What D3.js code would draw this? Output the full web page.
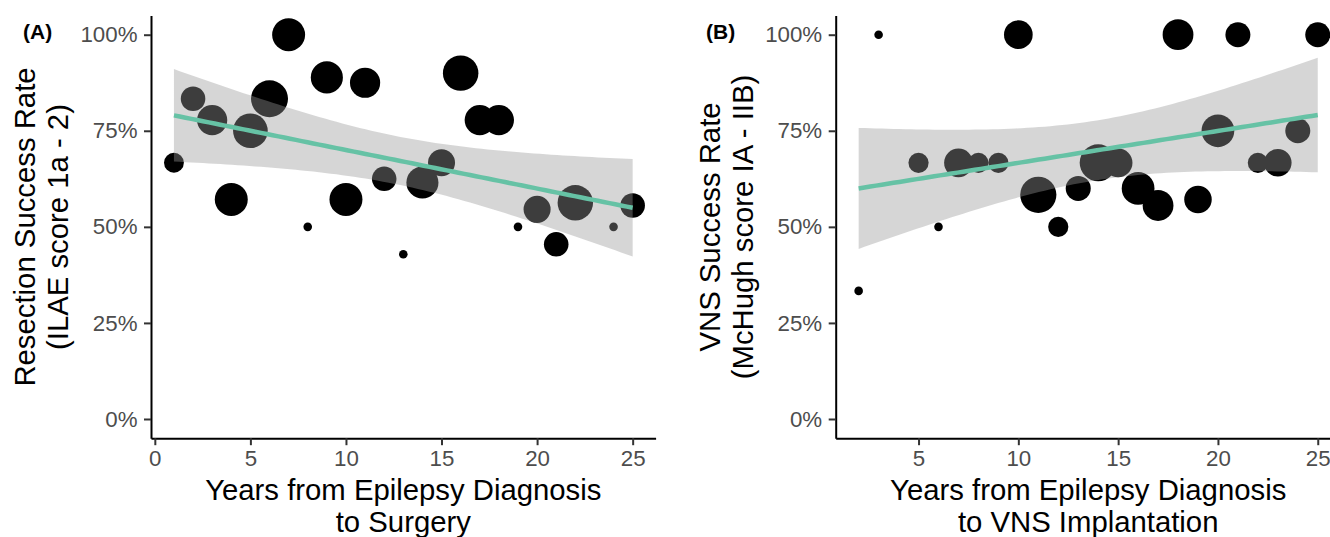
<!DOCTYPE html>
<html>
<head>
<meta charset="utf-8">
<script src="https://cdn.jsdelivr.net/npm/d3@7"></script>
<style>
  body { margin: 0; background: #fff; }
  text { font-family: "Liberation Sans", Arial, Helvetica, sans-serif; }
</style>
</head>
<body>
<svg id="chart" width="1330" height="537"></svg>
<script>
// ******* DATA *******
// (A) resection: years from diagnosis, success rate (%), patients per point
const resectionYears = [1, 2, 3, 4, 5, 6, 7, 8, 9, 10, 11, 12, 13, 14, 15, 16, 17, 18, 19, 20, 21, 22, 24, 25];
const resectionRate = [66.67, 83.33, 77.78, 57.14, 75, 83.33, 100, 50, 88.89, 57.14, 87.5, 62.5, 42.86, 61.54, 66.67, 90, 77.78, 77.78, 50, 54.55, 45.45, 56.25, 50, 55.56];
const resectionN = [4, 7, 12, 15, 17, 20, 15, 1, 14, 15, 12, 7, 1, 14, 9, 18, 12, 12, 1, 9, 7, 18, 1, 7];

// (B) VNS: years from diagnosis, success rate (%), patients per point
const vnsYears = [2, 3, 5, 6, 7, 8, 9, 10, 11, 12, 13, 14, 15, 16, 17, 18, 19, 20, 21, 22, 23, 24, 25];
const vnsRate = [33.33, 100, 66.67, 50, 66.67, 66.67, 66.67, 100, 58.33, 50, 60, 66.67, 66.67, 60, 55.56, 100, 57.14, 75, 100, 66.67, 66.67, 75, 100];
const vnsN = [1, 1, 4, 1, 10, 4, 4, 10, 18, 4, 7, 19, 10, 14, 12, 12, 9, 14, 7, 4, 9, 7, 7];

// tick labels
const yTicks = [0, 25, 50, 75, 100];
const resectionXTicks = [0, 5, 10, 15, 20, 25];
const vnsXTicks = [5, 10, 15, 20, 25];

const svg = d3.select("#chart");

// two-sided 95% t quantile (Cornish-Fisher expansion around z)
function tQuantile(df) {
    const z = 1.959964;
    return z + (z ** 3 + z) / (4 * df) + (5 * z ** 5 + 16 * z ** 3 + 3 * z) / (96 * df * df);
}

// linear fit with 95% confidence band, like geom_smooth(method = "lm")
function fitLine(xs, ys) {
    const n = xs.length;
    const mx = d3.mean(xs), my = d3.mean(ys);
    const sxx = d3.sum(xs, x => (x - mx) ** 2);
    const sxy = d3.sum(xs.map((x, i) => (x - mx) * (ys[i] - my)));
    const slope = sxy / sxx;
    const icpt = my - slope * mx;
    const rss = d3.sum(xs.map((x, i) => (ys[i] - icpt - slope * x) ** 2));
    const s = Math.sqrt(rss / (n - 2));
    const t = tQuantile(n - 2);
    const [lo, hi] = d3.extent(xs);
    return d3.range(80).map(i => {
        const x = lo + i * (hi - lo) / 79;
        const fit = icpt + slope * x;
        const se = s * Math.sqrt(1 / n + (x - mx) ** 2 / sxx);
        return { x, fit, lo: fit - t * se, hi: fit + t * se };
    });
}

function drawPanel(cfg) {
    const g = svg.append("g");

    // 5% expansion on x like ggplot
    const [xmin, xmax] = d3.extent(cfg.years);
    const pad = (xmax - xmin) * 0.05;
    const x = d3.scaleLinear().domain([xmin - pad, xmax + pad]).range(cfg.xRange);
    const y = d3.scaleLinear().domain([-5, 105]).range([438.2, 15.5]);

    // point size: sqrt of rescaled n, like scale_size()
    const [nmin, nmax] = d3.extent(cfg.n);
    const rScale = d3.scaleLinear().domain([0, 1]).range([4.3, 18.5]);
    const radius = n => rScale(Math.sqrt((n - nmin) / (nmax - nmin)));

    // points
    g.append("g").selectAll("circle")
        .data(cfg.years.map((d, i) => ({ x: d, y: cfg.rate[i], n: cfg.n[i] })))
        .join("circle")
        .attr("cx", d => x(d.x))
        .attr("cy", d => y(d.y))
        .attr("r", d => radius(d.n))
        .attr("fill", "#000");

    // smooth band + line drawn over the points
    const band = fitLine(cfg.years, cfg.rate);
    g.append("path")
        .datum(band)
        .attr("fill", "#999999")
        .attr("fill-opacity", 0.4)
        .attr("d", d3.area().x(d => x(d.x)).y0(d => y(d.lo)).y1(d => y(d.hi)));
    g.append("path")
        .datum(band)
        .attr("fill", "none")
        .attr("stroke", "#66C2A5")
        .attr("stroke-width", 4.5)
        .attr("d", d3.line().x(d => x(d.x)).y(d => y(d.fit)));

    // axes
    const yAxis = g.append("g")
        .attr("transform", `translate(${cfg.xRange[0]},0)`)
        .call(d3.axisLeft(y).tickValues(yTicks).tickFormat(d => d + "%").tickSize(7).tickPadding(6.5).tickSizeOuter(0));
    const xAxis = g.append("g")
        .attr("transform", `translate(0,${438.2})`)
        .call(d3.axisBottom(x).tickValues(cfg.xTicks).tickSize(7).tickPadding(5).tickSizeOuter(0));

    [yAxis, xAxis].forEach(ax => {
        ax.select(".domain").attr("stroke", "#000").attr("stroke-width", 2);
        ax.selectAll(".tick line").attr("stroke", "#333").attr("stroke-width", 2);
        ax.selectAll(".tick text").attr("fill", "#4d4d4d").style("font-size", "22.3px");
    });

    // axis titles
    const xc = (cfg.xRange[0] + cfg.xRange[1]) / 2;
    cfg.xTitle.forEach((t, i) => {
        g.append("text")
            .attr("x", xc).attr("y", 500 + i * 31.5)
            .attr("text-anchor", "middle")
            .style("font-size", "29.3px")
            .text(t);
    });
    cfg.yTitle.forEach((t, i) => {
        g.append("text")
            .attr("transform", `translate(${cfg.yTitleX + i * 32.5},227) rotate(-90)`)
            .attr("text-anchor", "middle")
            .style("font-size", "29.3px")
            .text(t);
    });

    // panel tag
    g.append("text")
        .attr("x", cfg.tagX).attr("y", 39)
        .style("font-size", "21px")
        .style("font-weight", "bold")
        .text(cfg.tag);
}

drawPanel({
    years: resectionYears, rate: resectionRate, n: resectionN,
    xTicks: resectionXTicks,
    xRange: [151, 655.6],
    xTitle: ["Years from Epilepsy Diagnosis", "to Surgery"],
    yTitle: ["Resection Success Rate", "(ILAE score 1a - 2)"],
    yTitleX: 35,
    tag: "(A)", tagX: 23
});

drawPanel({
    years: vnsYears, rate: vnsRate, n: vnsN,
    xTicks: vnsXTicks,
    xRange: [835.7, 1340.7],
    xTitle: ["Years from Epilepsy Diagnosis", "to VNS Implantation"],
    yTitle: ["VNS Success Rate", "(McHugh score IA - IIB)"],
    yTitleX: 720,
    tag: "(B)", tagX: 706
});
</script>
</body>
</html>
